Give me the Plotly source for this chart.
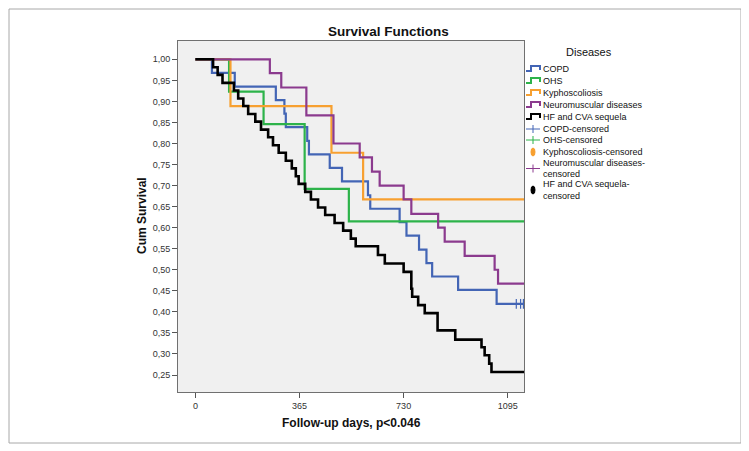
import plotly.graph_objects as go

# ---------------- data ----------------
copd_days = [0, 58, 138, 282, 312, 317, 392, 398, 471, 514, 605, 613, 716, 740, 784, 810, 830, 921, 1056, 1152]
copd_surv = [1.0, 0.968, 0.935, 0.903, 0.871, 0.839, 0.806, 0.774, 0.742, 0.710, 0.677, 0.645,
             0.613, 0.581, 0.548, 0.516, 0.484, 0.452, 0.419, 0.419]
copd_cens_days = [1125, 1140, 1150]
copd_cens_surv = [0.419, 0.419, 0.419]

ohs_days = [0, 118, 239, 383, 538, 1152]
ohs_surv = [1.0, 0.923, 0.846, 0.692, 0.615, 0.615]

kypho_days = [0, 123, 477, 588, 1152]
kypho_surv = [1.0, 0.889, 0.778, 0.667, 0.667]

neuro_days = [0, 261, 301, 389, 484, 576, 619, 646, 730, 757, 851, 874, 944, 1049, 1061, 1152]
neuro_surv = [1.0, 0.967, 0.933, 0.867, 0.800, 0.767, 0.733, 0.700, 0.667, 0.633, 0.600, 0.567,
              0.533, 0.500, 0.467, 0.467]

hf_days = [0, 62, 78, 95, 135, 150, 168, 185, 210, 230, 255, 272, 292, 317, 338, 352, 362, 385,
           405, 430, 455, 488, 518, 545, 562, 640, 664, 730, 757, 760, 781, 804, 849, 911, 1003,
           1014, 1030, 1038, 1152]
hf_surv = [1.0, 0.981, 0.963, 0.944, 0.926, 0.907, 0.889, 0.870, 0.852, 0.833, 0.815, 0.796,
           0.778, 0.759, 0.741, 0.722, 0.704, 0.685, 0.667, 0.648, 0.630, 0.611, 0.593, 0.574,
           0.556, 0.535, 0.515, 0.495, 0.455, 0.436, 0.416, 0.397, 0.356, 0.334, 0.316, 0.297,
           0.277, 0.257, 0.257]

x_ticks = [0, 365, 730, 1095]
y_ticks = [0.25, 0.30, 0.35, 0.40, 0.45, 0.50, 0.55, 0.60, 0.65, 0.70, 0.75, 0.80, 0.85, 0.90, 0.95, 1.00]
y_ticktext = ["0,25", "0,30", "0,35", "0,40", "0,45", "0,50", "0,55", "0,60", "0,65", "0,70",
              "0,75", "0,80", "0,85", "0,90", "0,95", "1,00"]

series_names = ["COPD", "OHS", "Kyphoscoliosis", "Neuromuscular diseases", "HF and CVA sequela"]
censored_lines = [["COPD-censored"], ["OHS-censored"], ["Kyphoscoliosis-censored"],
                  ["Neuromuscular diseases-", "censored"], ["HF and CVA sequela-", "censored"]]
colors = ["#4365B5", "#2DB34A", "#F7A030", "#8B3A8E", "#000000"]

# ---------------- layout geometry ----------------
# target positions are given in screen pixels; the page body adds an 8 px offset
OFF = 8
W, H = 749, 451
PL, PR, PT, PB = 178 - OFF, 524 - OFF, 41 - OFF, 392 - OFF
FONT = "Liberation Sans, Arial, sans-serif"


def px(x):
    return (x - OFF - PL) / (PR - PL)


def py(y):
    return (PB - (y - OFF)) / (PB - PT)


fig = go.Figure()

curves = [(copd_days, copd_surv), (ohs_days, ohs_surv), (kypho_days, kypho_surv),
          (neuro_days, neuro_surv), (hf_days, hf_surv)]
for (d, s), name, col in zip(curves, series_names, colors):
    fig.add_trace(go.Scatter(x=d, y=s, mode="lines", line_shape="hv", name=name,
                             line=dict(color=col, width=2.6 if col == "#000000" else 2.2),
                             showlegend=False))

fig.add_trace(go.Scatter(x=copd_cens_days, y=copd_cens_surv, mode="markers", name="COPD-censored",
                         marker=dict(symbol="line-ns-open", size=7, color=colors[0],
                                     line=dict(color=colors[0], width=1.2)),
                         showlegend=False, cliponaxis=False))

shapes = []
annotations = []

# outer frame
shapes.append(dict(type="rect", xref="paper", yref="paper", x0=px(9), x1=px(741), y0=py(443), y1=py(9),
                   line=dict(color="#A8A8A8", width=1), fillcolor="rgba(0,0,0,0)", layer="below"))

# ---- manual legend ----
LX0, LX1 = 526, 540
ys_line = [69, 81, 93, 105, 117]
for y, name, col in zip(ys_line, series_names, colors):
    path = "M {a},{b} L {c},{b} L {c},{d} L {e},{d} L {e},{f}".format(
        a=px(LX0), b=py(y + 2), c=px(531), d=py(y - 3), e=px(LX1), f=py(y + 1))
    shapes.append(dict(type="path", xref="paper", yref="paper", path=path,
                       line=dict(color=col, width=2)))
    annotations.append(dict(x=px(541), y=py(y), xref="paper", yref="paper", text=name,
                            showarrow=False, xanchor="left", yanchor="middle",
                            font=dict(family=FONT, size=9, color="#111")))

ys_cens = [[129], [140], [152], [163, 174], [184.5, 195.5]]
for i, (ylist, lines, col) in enumerate(zip(ys_cens, censored_lines, colors)):
    yc = sum(ylist) / len(ylist)
    if i in (2, 4):
        shapes.append(dict(type="circle", xref="paper", yref="paper",
                           x0=px(531), x1=px(535), y0=py(yc + 4), y1=py(yc - 4),
                           fillcolor=col, line=dict(color=col, width=1)))
    else:
        shapes.append(dict(type="line", xref="paper", yref="paper", x0=px(LX0), x1=px(LX1),
                           y0=py(yc), y1=py(yc), line=dict(color=col, width=1)))
        shapes.append(dict(type="line", xref="paper", yref="paper", x0=px(533), x1=px(533),
                           y0=py(yc - 4), y1=py(yc + 4), line=dict(color=col, width=1)))
    for y, t in zip(ylist, lines):
        annotations.append(dict(x=px(541), y=py(y), xref="paper", yref="paper", text=t,
                                showarrow=False, xanchor="left", yanchor="middle", align="left",
                                font=dict(family=FONT, size=9, color="#111")))

annotations.append(dict(x=px(589), y=py(52), xref="paper", yref="paper", text="Diseases",
                        showarrow=False, xanchor="center", yanchor="middle",
                        font=dict(family=FONT, size=11, color="#111")))

# titles
annotations.append(dict(x=px(388), y=py(31), xref="paper", yref="paper",
                        text="<b>Survival Functions</b>", showarrow=False,
                        xanchor="center", yanchor="middle",
                        font=dict(family=FONT, size=13.5, color="#111")))
annotations.append(dict(x=px(142), y=py(216), xref="paper", yref="paper",
                        text="<b>Cum Survival</b>", showarrow=False, textangle=-90,
                        xanchor="center", yanchor="middle",
                        font=dict(family=FONT, size=12, color="#111")))
annotations.append(dict(x=px(351), y=py(423), xref="paper", yref="paper",
                        text="<b>Follow-up days, p<0.046</b>", showarrow=False,
                        xanchor="center", yanchor="middle",
                        font=dict(family=FONT, size=12, color="#111")))

fig.update_layout(
    width=W, height=H, autosize=False,
    margin=dict(l=PL, r=W - PR, t=PT, b=H - PB, pad=0),
    paper_bgcolor="white", plot_bgcolor="#F0F0F0",
    font=dict(family=FONT, size=9, color="#333"),
    showlegend=False,
    shapes=shapes, annotations=annotations,
    xaxis=dict(range=[-61, 1152], tickvals=x_ticks, ticktext=[str(v) for v in x_ticks],
               showgrid=False, zeroline=False, showline=True, mirror=True,
               linecolor="#707070", linewidth=1, ticks="outside", ticklen=5,
               tickcolor="#555", tickfont=dict(family=FONT, size=9, color="#333")),
    yaxis=dict(range=[0.2096, 1.0435], tickvals=y_ticks, ticktext=y_ticktext,
               showgrid=False, zeroline=False, showline=True, mirror=True,
               linecolor="#707070", linewidth=1, ticks="outside", ticklen=5,
               tickcolor="#555", tickfont=dict(family=FONT, size=9, color="#333")),
)

fig.write_html("out.html")
